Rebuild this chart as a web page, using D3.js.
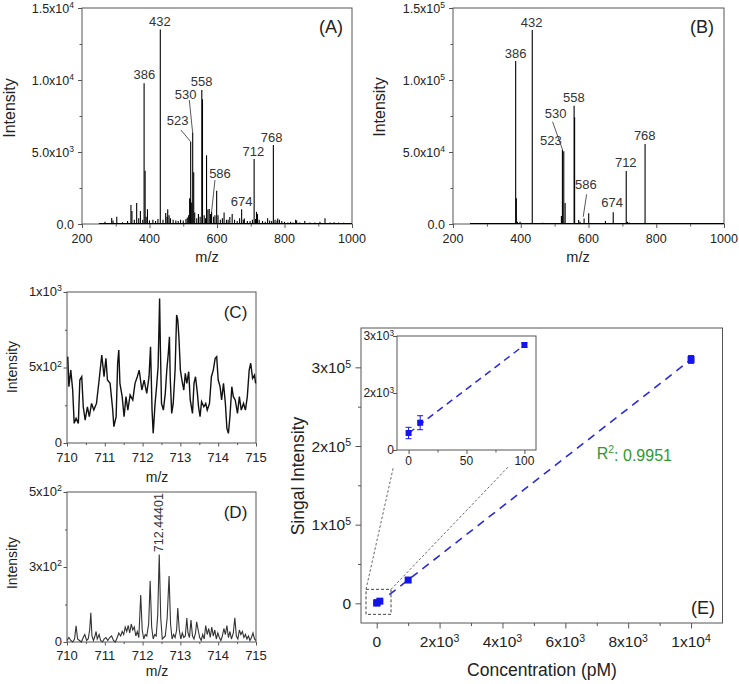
<!DOCTYPE html>
<html><head><meta charset="utf-8">
<script src="https://cdn.jsdelivr.net/npm/d3@7"></script>
<style>
body{margin:0;background:#fff;}
svg{display:block;font-family:"Liberation Sans",Arial,Helvetica,sans-serif;}
</style></head><body>
<svg id="c" width="739" height="684"></svg>
<script>
// ================= DATA =================
// Panels A & B (m/z axis)
const mzTicks = [200, 400, 600, 800, 1000];
const mzTickLabels = ["200", "400", "600", "800", "1000"];
const mzMinor = [300, 500, 700, 900];

const aYTicks = [0, 5000, 10000, 15000];
const aYTickLabels = ["0.0", "5.0x10^3", "1.0x10^4", "1.5x10^4"];
const aYMinor = [2500, 7500, 12500];
const aPeakMz = [268,288,292,303,320,335,345,348,355,362,368,373,380,384,387,390,394,400,410,418,425,432,440,448,452,454,458,462,470,478,485,492,500,508,512,516,519,521,522,525,528,531,534,540,545,550,555,557,562,566,569,573,577,581,584,590,594,599,603,610,616,621,628,633,638,645,652,660,667,673,678,681,690,698,705,710,714,717,720,725,735,743,750,756,762,767,772,778,780,785,792,800,810,818,825,833,836,845,860,875,890,905,920,935,947,960,975,990];
const aPeakInt = [150,420,250,500,120,200,1320,900,300,1460,400,900,300,9770,3700,500,1030,250,300,200,350,13500,300,760,500,1020,600,400,300,250,200,300,250,350,450,600,1780,1700,5720,1500,6340,3600,800,400,700,500,9300,8660,600,400,4770,1000,1040,700,860,500,600,2310,600,300,400,790,300,300,480,700,300,200,400,1020,300,380,200,200,300,4510,350,850,700,300,200,150,400,250,200,5490,300,250,390,300,200,150,100,150,100,300,250,100,200,100,100,150,400,100,120,100,80,60];
const aLabelText = ["432","386","558","530","523","586","674","712","768"];
const aLabelMz   = [431, 384.6, 554.7, 507.3, 483.6, 608.9, 673.2, 707.6, 762.1];
const aLabelInt  = [13770, 10070, 9580, 8660, 6875, 3215, 1270, 4740, 5715];
const aLeaderMz  = [[518, 528], [493, 522], [594, 584]];
const aLeaderInt = [[8610, 6300], [6530, 5715], [3055, 860]];

const bYTicks = [0, 50000, 100000, 150000];
const bYTickLabels = ["0.0", "5.0x10^4", "1.0x10^5", "1.5x10^5"];
const bYMinor = [25000, 75000, 125000];
const bPeakMz = [385,387,390,398,434,465,520,523,527,531,557.5,559,571,575,587,600.6,650,673,711.4,715,720,760,767,800];
const bPeakInt = [113200,17800,1500,1500,134700,800,5500,51400,50500,14500,82200,74100,2800,1500,3900,7400,2000,8100,36800,1500,1000,500,55500,300];
const bLabelText = ["432","386","558","530","523","586","674","712","768"];
const bLabelMz   = [432.2, 385, 557, 503, 489, 592, 670, 710, 766];
const bLabelInt  = [137000, 115500, 84900, 73400, 54900, 24100, 11600, 39400, 58300];
const bLeaderMz  = [[494, 523.6], [594.4, 584.4]];
const bLeaderInt = [[71000, 51400], [20600, 5000]];

// Panels C & D (zoomed m/z)
const zTicks = [710, 711, 712, 713, 714, 715];
const zTickLabels = ["710", "711", "712", "713", "714", "715"];
const zMinor = [710.5, 711.5, 712.5, 713.5, 714.5];
const cYTicks = [0, 500, 1000];
const cYTickLabels = ["0", "5x10^2", "1x10^3"];
const cYMinor = [250, 750];
const cMz = [710.02,710.05,710.10,710.15,710.19,710.24,710.30,710.34,710.39,710.43,710.48,710.54,710.59,710.65,710.71,710.78,710.85,710.92,710.98,711.03,711.07,711.14,711.21,711.24,711.30,711.34,711.37,711.40,711.46,711.51,711.56,711.61,711.67,711.74,711.80,711.86,711.91,711.98,712.04,712.11,712.17,712.21,712.25,712.28,712.33,712.37,712.41,712.43,712.45,712.47,712.50,712.55,712.60,712.64,712.68,712.71,712.73,712.77,712.81,712.86,712.90,712.93,712.96,713.00,713.04,713.09,713.13,713.17,713.22,713.26,713.32,713.36,713.40,713.45,713.48,713.52,713.56,713.62,713.67,713.71,713.77,713.82,713.87,713.92,713.96,714.00,714.05,714.09,714.14,714.19,714.23,714.27,714.31,714.36,714.40,714.45,714.51,714.56,714.61,714.67,714.72,714.77,714.82,714.86,714.91,714.96,714.99];
const cInt = [572,373,483,351,130,163,130,417,439,240,152,240,174,262,218,262,417,583,439,561,417,395,218,108,174,528,616,395,307,174,307,218,318,285,395,439,483,351,417,329,439,638,218,64,262,373,505,726,957,638,262,218,329,483,594,704,439,196,262,483,848,815,704,483,417,351,461,395,472,285,196,395,439,329,240,174,274,240,262,218,262,439,483,561,572,417,373,285,395,262,97,64,174,373,307,285,196,307,218,262,218,307,483,528,428,450,395];

const dYTicks = [0, 250, 500];
const dYTickLabels = ["0", "3x10^2", "5x10^2"];
const dYMinor = [125, 375];
const dMz = [710.00,710.05,710.10,710.15,710.20,710.24,710.28,710.33,710.38,710.43,710.47,710.52,710.56,710.60,710.63,710.66,710.70,710.74,710.77,710.80,710.85,710.89,710.94,710.98,711.03,711.08,711.13,711.18,711.23,711.28,711.33,711.37,711.42,711.46,711.50,711.54,711.58,711.62,711.66,711.70,711.74,711.78,711.82,711.86,711.90,711.95,711.99,712.03,712.07,712.11,712.16,712.20,712.24,712.28,712.32,712.36,712.40,712.44,712.48,712.52,712.56,712.60,712.65,712.70,712.74,712.78,712.82,712.86,712.90,712.93,712.97,713.01,713.05,713.09,713.13,713.17,713.20,713.24,713.28,713.32,713.36,713.40,713.43,713.47,713.51,713.55,713.59,713.63,713.67,713.71,713.75,713.79,713.83,713.87,713.91,713.95,713.99,714.03,714.07,714.11,714.15,714.19,714.23,714.27,714.31,714.35,714.40,714.44,714.48,714.52,714.56,714.60,714.64,714.68,714.72,714.76,714.80,714.84,714.88,714.92,714.96,715.00];
const dInt = [5,15,5,0,10,54,10,5,0,15,25,5,10,40,97,20,5,20,35,10,25,5,0,10,15,5,15,20,5,0,15,30,20,35,25,50,35,55,30,60,40,50,20,35,15,157,40,10,25,20,60,203,50,10,25,20,90,292,80,10,15,20,80,220,60,10,25,15,40,113,40,10,30,15,20,80,30,15,73,20,10,30,67,40,15,5,25,10,55,25,45,15,50,20,40,10,30,15,5,20,45,25,55,15,35,10,30,81,20,10,40,25,35,15,25,10,20,5,15,30,10,5];
const dPeakLabel = "712.44401";
const dPeakMz = 712.44;
const dPeakLabelInt = 398;

// Panel E (calibration)
const eXTicks = [0, 2000, 4000, 6000, 8000, 10000];
const eXTickLabels = ["0", "2x10^3", "4x10^3", "6x10^3", "8x10^3", "1x10^4"];
const eXMinor = [1000, 3000, 5000, 7000, 9000];
const eYTicks = [0, 100000, 200000, 300000];
const eYTickLabels = ["0", "1x10^5", "2x10^5", "3x10^5"];
const eYMinor = [50000, 150000, 250000];
const conc = [0, 10, 100, 1000, 10000];
const signal = [447, 718, 2763, 29600, 310000];
const signalErr = [150, 184, 60, 1500, 5000];
const fitMainX = [400, 10000];
const fitMainY = [11000, 310000];
const zoomBoxX = [-340, 455];
const zoomBoxY = [-14000, 17800];
const guideFromX = [-340, 455];
const guideToX = [528, 4187];
const guideToY = [172800, 173600];

const insXTicks = [0, 50, 100];
const insXTickLabels = ["0", "50", "100"];
const insXMinor = [25, 75];
const insYTicks = [0, 1500, 3000];
const insYTickLabels = ["0", "2x10^3", "3x10^3"];
const insetConc = [0, 10, 100];
const fitInsetX = [0, 100];
const fitInsetY = [441, 2763];

// ================= DRAW =================
const svg = d3.select("#c");
const AX = "#555";
const TXT = "#222";

function supText(sel, label) {
  const p = label.split("^");
  sel.text(null);
  sel.append("tspan").text(p[0]);
  if (p[1] !== undefined) {
    sel.append("tspan").attr("dy", "-0.5em").attr("font-size", "68%").text(p[1]);
  }
}

function panel(o) {
  const x = d3.scaleLinear().domain(o.xd).range([o.x0, o.x1]);
  const y = d3.scaleLinear().domain(o.yd).range([o.y0, o.y1]);
  const g = svg.append("g");
  if (o.bg) g.append("rect").attr("x", o.x0).attr("y", o.y1).attr("width", o.x1 - o.x0).attr("height", o.y0 - o.y1).attr("fill", "#fff");
  const mk = (axisFn, vals, size, tr) => {
    const a = g.append("g").attr("transform", tr)
      .call(axisFn.tickValues(vals).tickSize(size).tickFormat(""));
    a.select(".domain").remove();
    a.selectAll("line").attr("stroke", AX);
  };
  const bt = `translate(0,${o.y0})`, lt = `translate(${o.x0},0)`;
  if (o.xMinor) mk(d3.axisBottom(x), o.xMinor, o.minor, bt);
  mk(d3.axisBottom(x), o.xTicks, o.major, bt);
  if (o.yMinor) mk(d3.axisLeft(y), o.yMinor, o.minor, lt);
  mk(d3.axisLeft(y), o.yTicks, o.major, lt);
  g.append("rect").attr("x", o.x0).attr("y", o.y1).attr("width", o.x1 - o.x0).attr("height", o.y0 - o.y1)
    .attr("fill", "none").attr("stroke", AX).attr("stroke-width", 1);
  g.selectAll(null).data(o.xTicks).join("text")
    .attr("x", d => x(d)).attr("y", o.y0 + o.xlDy)
    .attr("text-anchor", "middle").attr("font-size", o.tfs).attr("fill", TXT)
    .each(function (d, i) { supText(d3.select(this), o.xLabels[i]); });
  g.selectAll(null).data(o.yTicks).join("text")
    .attr("x", o.x0 - o.ylDx).attr("y", d => y(d)).attr("dy", o.yDy || "0.36em")
    .attr("text-anchor", "end").attr("font-size", o.tfs).attr("fill", TXT)
    .each(function (d, i) { supText(d3.select(this), o.yLabels[i]); });
  return { x, y, g };
}

function title(txt, x, y, fs, rot) {
  const t = svg.append("text").attr("font-size", fs).attr("fill", TXT).attr("text-anchor", "middle");
  if (rot) t.attr("transform", `translate(${x},${y}) rotate(-90)`);
  else t.attr("x", x).attr("y", y);
  t.text(txt);
  return t;
}

function spectrum(p, mz, inten, labels, lmz, lint, leadMz, leadInt) {
  p.g.selectAll(null).data(mz).join("line")
    .attr("x1", d => p.x(d)).attr("x2", d => p.x(d))
    .attr("y1", p.y(0)).attr("y2", (d, i) => p.y(inten[i]))
    .attr("stroke", "#000").attr("stroke-width", 1.1);
  p.g.append("line").attr("x1", p.x(250)).attr("x2", p.x(1000)).attr("y1", p.y(0) - 0.5).attr("y2", p.y(0) - 0.5)
    .attr("stroke", "#000").attr("stroke-width", 1.2);
  p.g.selectAll(null).data(labels).join("text")
    .attr("x", (d, i) => p.x(lmz[i])).attr("y", (d, i) => p.y(lint[i]))
    .attr("text-anchor", "middle").attr("font-size", 13).attr("fill", "#333").text(d => d);
  p.g.selectAll(null).data(leadMz).join("line")
    .attr("x1", d => p.x(d[0])).attr("x2", d => p.x(d[1]))
    .attr("y1", (d, i) => p.y(leadInt[i][0])).attr("y2", (d, i) => p.y(leadInt[i][1]))
    .attr("stroke", "#444").attr("stroke-width", 0.9);
}

// ---- Panel A ----
const pA = panel({ x0: 82, x1: 352, y0: 224, y1: 8, xd: [200, 1000], yd: [0, 15000],
  xTicks: mzTicks, xLabels: mzTickLabels, xMinor: mzMinor, yTicks: aYTicks, yLabels: aYTickLabels, yMinor: aYMinor,
  major: 4, minor: 2.5, tfs: 12.5, xlDy: 18.5, ylDx: 8 });
spectrum(pA, aPeakMz, aPeakInt, aLabelText, aLabelMz, aLabelInt, aLeaderMz, aLeaderInt);
title("(A)", 331, 33, 18);
title("m/z", 207, 262, 14.5);
title("Intensity", 15, 108, 16, true);

// ---- Panel B ----
const pB = panel({ x0: 453, x1: 724, y0: 224, y1: 8, xd: [200, 1000], yd: [0, 150000],
  xTicks: mzTicks, xLabels: mzTickLabels, xMinor: mzMinor, yTicks: bYTicks, yLabels: bYTickLabels, yMinor: bYMinor,
  major: 4, minor: 2.5, tfs: 12.5, xlDy: 19, ylDx: 8 });
spectrum(pB, bPeakMz, bPeakInt, bLabelText, bLabelMz, bLabelInt, bLeaderMz, bLeaderInt);
title("(B)", 702, 33, 18);
title("m/z", 578, 262, 14.5);
title("Intensity", 385, 107, 16, true);

// ---- Panel C ----
const pC = panel({ x0: 67, x1: 256, y0: 443, y1: 292, xd: [710, 715], yd: [0, 1000],
  xTicks: zTicks, xLabels: zTickLabels, xMinor: zMinor, yTicks: cYTicks, yLabels: cYTickLabels, yMinor: cYMinor,
  major: 3.5, minor: 2, tfs: 13, xlDy: 19, ylDx: 5, yDy: "0.3em" });
pC.g.append("path").datum(cMz)
  .attr("d", d3.line().x(d => pC.x(d)).y((d, i) => pC.y(cInt[i])))
  .attr("fill", "none").attr("stroke", "#111").attr("stroke-width", 1.4).attr("stroke-linejoin", "miter");
title("(C)", 235.5, 318, 17);
title("m/z", 157, 482, 14);
title("Intensity", 16.5, 367, 14, true);

// ---- Panel D ----
const pD = panel({ x0: 67, x1: 256, y0: 642, y1: 492, xd: [710, 715], yd: [0, 500],
  xTicks: zTicks, xLabels: zTickLabels, xMinor: zMinor, yTicks: dYTicks, yLabels: dYTickLabels, yMinor: dYMinor,
  major: 3.5, minor: 2, tfs: 13, xlDy: 17.5, ylDx: 5, yDy: "0.3em" });
pD.g.append("path").datum(dMz)
  .attr("d", d3.line().x(d => pD.x(d)).y((d, i) => pD.y(dInt[i])))
  .attr("fill", "none").attr("stroke", "#333").attr("stroke-width", 1.1);
pD.g.append("text")
  .attr("transform", `translate(${pD.x(dPeakMz) + 4},${pD.y(dPeakLabelInt)}) rotate(-90)`)
  .attr("text-anchor", "middle").attr("font-size", 12.5).attr("fill", "#333").text(dPeakLabel);
title("(D)", 235.5, 517.5, 17);
title("m/z", 157, 676, 14);
title("Intensity", 16.5, 563, 14, true);

// ---- Panel E ----
const pE = panel({ x0: 361, x1: 722.5, y0: 623, y1: 328, xd: [-500, 11000], yd: [-25000, 350000],
  xTicks: eXTicks, xLabels: eXTickLabels, xMinor: eXMinor, yTicks: eYTicks, yLabels: eYTickLabels, yMinor: eYMinor,
  major: 5.5, minor: 3, tfs: 15.5, xlDy: 24, ylDx: 10 });
const BLUE = "#1414ee";
pE.g.append("rect")
  .attr("x", pE.x(zoomBoxX[0])).attr("y", pE.y(zoomBoxY[1]))
  .attr("width", pE.x(zoomBoxX[1]) - pE.x(zoomBoxX[0])).attr("height", pE.y(zoomBoxY[0]) - pE.y(zoomBoxY[1]))
  .attr("fill", "none").attr("stroke", "#444").attr("stroke-width", 1).attr("stroke-dasharray", "3,2");
pE.g.selectAll(null).data(guideFromX).join("line")
  .attr("x1", d => pE.x(d)).attr("y1", pE.y(zoomBoxY[1]))
  .attr("x2", (d, i) => pE.x(guideToX[i])).attr("y2", (d, i) => pE.y(guideToY[i]))
  .attr("stroke", "#666").attr("stroke-width", 1).attr("stroke-dasharray", "2.5,2");
pE.g.append("line")
  .attr("x1", pE.x(fitMainX[0])).attr("y1", pE.y(fitMainY[0]))
  .attr("x2", pE.x(fitMainX[1])).attr("y2", pE.y(fitMainY[1]))
  .attr("stroke", "#2a2ad6").attr("stroke-width", 1.6).attr("stroke-dasharray", "8,6");
function points(p, xs, ys, es, sz) {
  p.g.selectAll(null).data(xs).join("path")
    .attr("d", (d, i) => {
      const cx = p.x(d), y1 = p.y(ys[i] + es[i]), y2 = p.y(ys[i] - es[i]);
      return `M${cx},${y1}V${y2}M${cx - 3},${y1}H${cx + 3}M${cx - 3},${y2}H${cx + 3}`;
    })
    .attr("stroke", BLUE).attr("stroke-width", 1).attr("fill", "none");
  p.g.selectAll(null).data(xs).join("rect")
    .attr("x", d => p.x(d) - sz / 2).attr("y", (d, i) => p.y(ys[i]) - sz / 2)
    .attr("width", sz).attr("height", sz).attr("fill", BLUE);
}
points(pE, conc, signal, signalErr, 7);
pE.g.append("text").attr("x", pE.x(7000)).attr("y", pE.y(184000))
  .attr("font-size", 16).attr("fill", "#2e9a2e")
  .each(function () {
    const t = d3.select(this);
    t.append("tspan").text("R");
    t.append("tspan").attr("dy", "-0.5em").attr("font-size", "65%").text("2");
    t.append("tspan").attr("dy", "0.5em").text(": 0.9951");
  });
title("(E)", 703, 614, 18);
title("Concentration (pM)", 542, 676, 17.5);
title("Singal Intensity", 304, 476, 17.5, true);

// ---- Inset ----
const pI = panel({ x0: 397, x1: 536, y0: 450, y1: 336, xd: [-10, 110], yd: [0, 3000], bg: true,
  xTicks: insXTicks, xLabels: insXTickLabels, xMinor: insXMinor, yTicks: insYTicks, yLabels: insYTickLabels,
  major: 4, minor: 2.5, tfs: 12, xlDy: 15, ylDx: 3 });
pI.g.append("line")
  .attr("x1", pI.x(fitInsetX[0])).attr("y1", pI.y(fitInsetY[0]))
  .attr("x2", pI.x(fitInsetX[1])).attr("y2", pI.y(fitInsetY[1]))
  .attr("stroke", "#2a2ad6").attr("stroke-width", 1.5).attr("stroke-dasharray", "7,5");
points(pI, insetConc, signal.slice(0, 3), signalErr.slice(0, 3), 6);
</script>
</body></html>
